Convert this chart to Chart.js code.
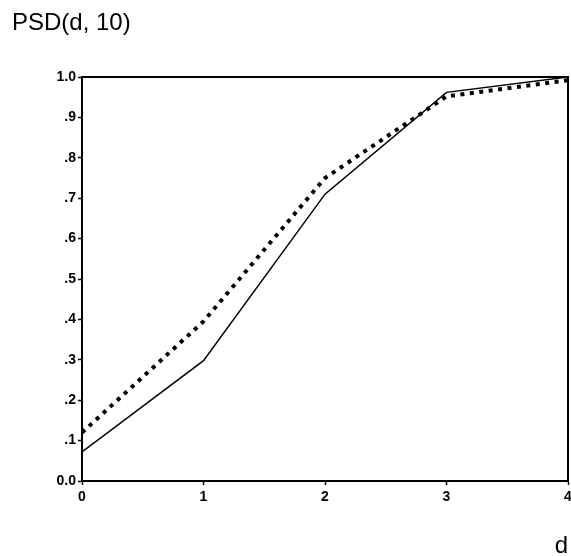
<!DOCTYPE html>
<html>
<head>
<meta charset="utf-8">
<script src="https://cdn.jsdelivr.net/npm/chart.js@4/dist/chart.umd.min.js"></script>
<style>
  html, body { margin: 0; padding: 0; background: #fff; }
  #wrap { width: 571px; height: 556px; }
</style>
</head>
<body>
<div id="wrap"><canvas id="c" width="571" height="556"></canvas></div>
<script>
// ---- data ----
const dValues = [0, 1, 2, 3, 4];
const solidSeries = [0.072, 0.298, 0.71, 0.962, 1.0];
const dottedSeries = [0.12, 0.395, 0.75, 0.952, 0.992];
const yTickLabels = ["0.0", ".1", ".2", ".3", ".4", ".5", ".6", ".7", ".8", ".9", "1.0"];
const xTickLabels = ["0", "1", "2", "3", "4"];
const chartTitle = "PSD(d, 10)";
const xAxisTitle = "d";

const FONT = "'Liberation Sans', Arial, Helvetica, sans-serif";

const frame = {
  id: 'frame',
  afterDatasetsDraw(chart) {
    const a = chart.chartArea, ctx = chart.ctx;
    ctx.save();
    ctx.strokeStyle = '#000';
    ctx.lineWidth = 2;
    ctx.strokeRect(a.left, a.top, a.right - a.left, a.bottom - a.top);
    ctx.restore();
  }
};

new Chart(document.getElementById('c'), {
  type: 'line',
  data: {
    datasets: [
      {
        data: dValues.map((d, i) => ({ x: d, y: solidSeries[i] })),
        borderColor: '#000',
        borderWidth: 1.5,
        pointRadius: 0,
        tension: 0,
        fill: false
      },
      {
        data: dValues.map((d, i) => ({ x: d, y: dottedSeries[i] })),
        borderColor: '#000',
        borderWidth: 4,
        borderDash: [4, 5.5],
        borderCapStyle: 'butt',
        pointRadius: 0,
        tension: 0,
        fill: false
      }
    ]
  },
  plugins: [frame],
  options: {
    responsive: false,
    animation: false,
    devicePixelRatio: 1,
    layout: { padding: { left: 12, right: 3, top: 0, bottom: 0 } },
    plugins: {
      legend: { display: false },
      tooltip: { enabled: false },
      title: {
        display: true,
        text: chartTitle,
        align: 'start',
        color: '#000',
        font: { family: FONT, size: 24, weight: 'normal', lineHeight: 1.2 },
        padding: { top: 9, bottom: 39.2 }
      }
    },
    scales: {
      x: {
        type: 'linear',
        min: 0,
        max: 4,
        ticks: {
          stepSize: 1,
          color: '#000',
          padding: 4,
          maxRotation: 0,
          font: { family: FONT, size: 14, weight: 'bold' },
          callback: (v) => xTickLabels[Math.round(v)] ?? ''
        },
        grid: { drawOnChartArea: false, drawTicks: true, tickLength: 4, color: '#000', tickWidth: 1.5 },
        border: { display: true, color: '#000', width: 2 },
        title: {
          display: true,
          text: xAxisTitle,
          align: 'end',
          color: '#000',
          font: { family: FONT, size: 24, lineHeight: 0.8 },
          padding: 0
        },
        afterFit(scale) {
          scale.height = 75;
          scale.paddingLeft = 0;
          scale.paddingRight = 0;
        }
      },
      y: {
        type: 'linear',
        min: 0,
        max: 1,
        ticks: {
          stepSize: 0.1,
          color: '#000',
          padding: 2,
          font: { family: FONT, size: 14, weight: 'bold' },
          callback: (v) => yTickLabels[Math.round(v * 10)] ?? ''
        },
        grid: { drawOnChartArea: false, drawTicks: true, tickLength: 4, color: '#000', tickWidth: 1.5 },
        border: { display: true, color: '#000', width: 2 },
        afterFit(scale) {
          scale.width = 70;
          scale.paddingTop = 0;
          scale.paddingBottom = 0;
        }
      }
    }
  }
});
</script>
</body>
</html>
